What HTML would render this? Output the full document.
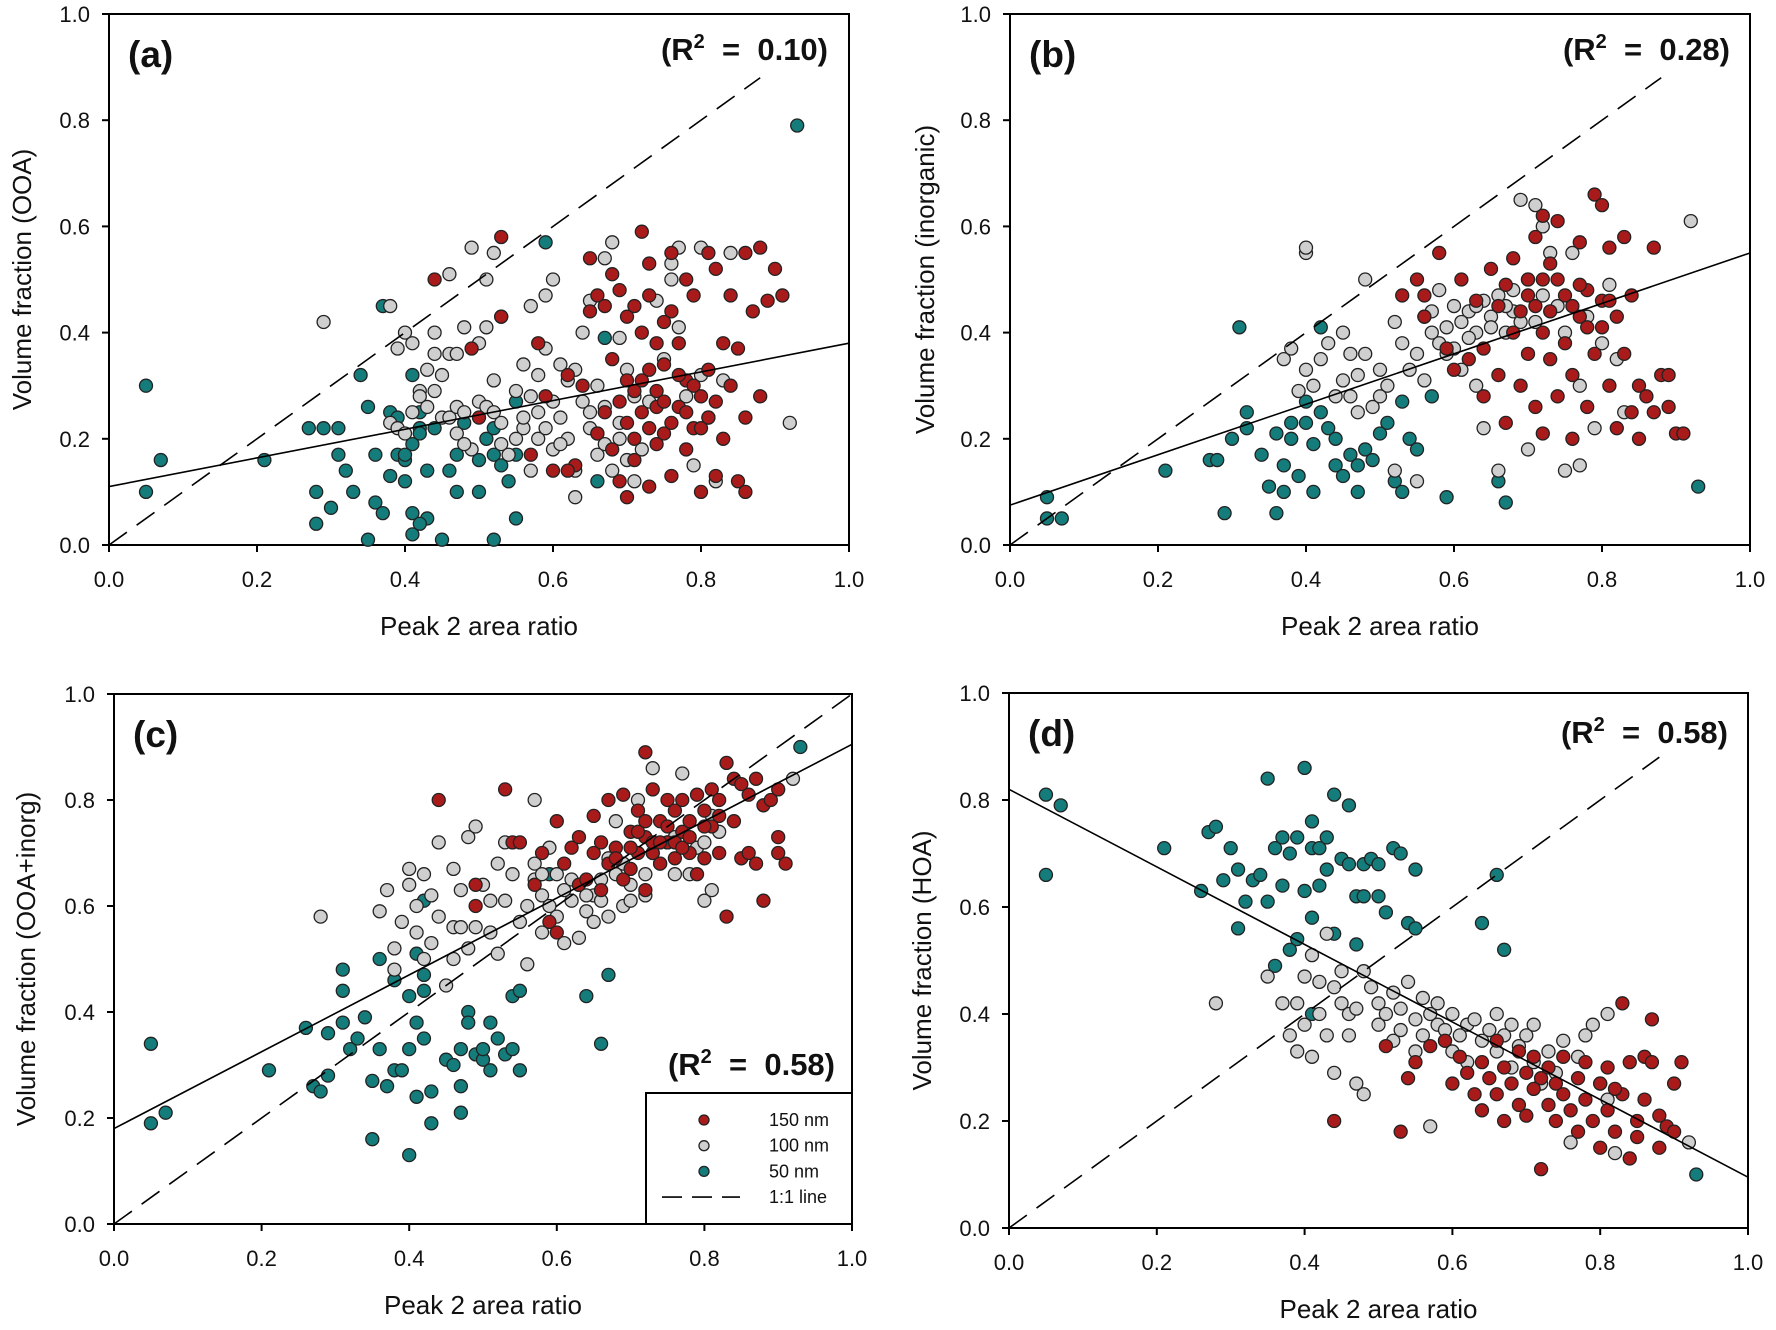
<!DOCTYPE html>
<html><head><meta charset="utf-8">
<style>
html,body{margin:0;padding:0;background:#fff;}
svg{display:block;font-family:"Liberation Sans",Arial,sans-serif;}
</style></head>
<body>
<svg id="fig" width="1776" height="1330" viewBox="0 0 1776 1330"></svg>
<script>
// ---------- data ----------
const xTicks = [0.0,0.2,0.4,0.6,0.8,1.0];
const yTicks = [0.0,0.2,0.4,0.6,0.8,1.0];
const tickLabels = ["0.0","0.2","0.4","0.6","0.8","1.0"];

const aTeal = [[0.05,0.30],[0.05,0.10],[0.07,0.16],[0.21,0.16],[0.27,0.22],[0.28,0.10],[0.29,0.22],[0.31,0.22],[0.31,0.17],[0.32,0.14],[0.33,0.10],[0.34,0.32],[0.35,0.26],[0.36,0.17],[0.36,0.08],[0.37,0.45],[0.38,0.25],[0.38,0.13],[0.39,0.24],[0.39,0.17],[0.40,0.12],[0.40,0.16],[0.41,0.06],[0.41,0.32],[0.42,0.22],[0.42,0.25],[0.43,0.14],[0.43,0.05],[0.44,0.22],[0.45,0.01],[0.35,0.01],[0.41,0.02],[0.46,0.14],[0.47,0.10],[0.47,0.17],[0.48,0.23],[0.50,0.10],[0.50,0.16],[0.51,0.20],[0.52,0.01],[0.52,0.17],[0.53,0.15],[0.55,0.17],[0.55,0.05],[0.55,0.27],[0.59,0.57],[0.67,0.39],[0.66,0.12],[0.93,0.79],[0.28,0.04],[0.30,0.07],[0.37,0.06],[0.42,0.04],[0.54,0.12],[0.52,0.22],[0.41,0.19],[0.42,0.21],[0.40,0.17]];
const aGrey = [[0.29,0.42],[0.38,0.45],[0.39,0.37],[0.40,0.40],[0.41,0.38],[0.42,0.29],[0.43,0.33],[0.44,0.40],[0.45,0.32],[0.46,0.51],[0.46,0.36],[0.47,0.36],[0.48,0.41],[0.49,0.56],[0.50,0.38],[0.51,0.41],[0.51,0.50],[0.52,0.55],[0.52,0.31],[0.53,0.43],[0.38,0.23],[0.39,0.22],[0.40,0.21],[0.41,0.25],[0.42,0.28],[0.44,0.29],[0.45,0.24],[0.46,0.24],[0.47,0.26],[0.48,0.25],[0.49,0.18],[0.50,0.27],[0.51,0.26],[0.52,0.25],[0.53,0.19],[0.54,0.17],[0.55,0.29],[0.56,0.34],[0.56,0.22],[0.57,0.45],[0.57,0.14],[0.58,0.32],[0.58,0.20],[0.59,0.47],[0.59,0.37],[0.60,0.50],[0.60,0.27],[0.60,0.18],[0.61,0.24],[0.62,0.20],[0.63,0.33],[0.63,0.09],[0.64,0.40],[0.65,0.46],[0.65,0.22],[0.66,0.30],[0.66,0.17],[0.67,0.54],[0.67,0.26],[0.68,0.57],[0.68,0.14],[0.69,0.39],[0.69,0.20],[0.70,0.33],[0.71,0.12],[0.71,0.28],[0.72,0.18],[0.73,0.27],[0.74,0.46],[0.75,0.35],[0.76,0.50],[0.76,0.53],[0.77,0.56],[0.77,0.41],[0.78,0.28],[0.79,0.15],[0.80,0.56],[0.80,0.32],[0.81,0.24],[0.82,0.12],[0.83,0.31],[0.84,0.55],[0.92,0.23],[0.63,0.14],[0.61,0.34],[0.56,0.24],[0.57,0.28],[0.58,0.25],[0.59,0.22],[0.61,0.19],[0.62,0.31],[0.64,0.27],[0.65,0.25],[0.66,0.21],[0.67,0.19],[0.69,0.23],[0.70,0.16],[0.43,0.26],[0.44,0.36],[0.47,0.21],[0.48,0.19],[0.53,0.23],[0.55,0.20]];
const aRed = [[0.44,0.50],[0.53,0.58],[0.53,0.43],[0.49,0.37],[0.50,0.24],[0.57,0.17],[0.58,0.38],[0.59,0.28],[0.60,0.14],[0.62,0.32],[0.63,0.15],[0.64,0.30],[0.65,0.54],[0.65,0.44],[0.66,0.47],[0.66,0.21],[0.67,0.45],[0.67,0.25],[0.68,0.51],[0.68,0.35],[0.69,0.48],[0.69,0.12],[0.70,0.43],[0.70,0.09],[0.70,0.23],[0.71,0.45],[0.71,0.29],[0.71,0.16],[0.72,0.59],[0.72,0.40],[0.73,0.53],[0.73,0.22],[0.73,0.11],[0.74,0.38],[0.74,0.19],[0.75,0.34],[0.75,0.21],[0.76,0.55],[0.76,0.44],[0.76,0.13],[0.77,0.38],[0.77,0.26],[0.78,0.50],[0.78,0.31],[0.78,0.18],[0.79,0.47],[0.79,0.22],[0.80,0.10],[0.80,0.28],[0.81,0.55],[0.81,0.24],[0.82,0.52],[0.82,0.13],[0.83,0.38],[0.83,0.20],[0.84,0.47],[0.84,0.30],[0.85,0.37],[0.85,0.12],[0.86,0.55],[0.86,0.24],[0.86,0.10],[0.87,0.44],[0.88,0.56],[0.88,0.28],[0.89,0.46],[0.90,0.52],[0.91,0.47],[0.74,0.26],[0.72,0.31],[0.68,0.18],[0.62,0.14],[0.69,0.27],[0.70,0.31],[0.71,0.20],[0.72,0.25],[0.73,0.33],[0.74,0.29],[0.75,0.27],[0.76,0.23],[0.77,0.32],[0.78,0.25],[0.79,0.30],[0.80,0.22],[0.81,0.33],[0.82,0.27],[0.75,0.42],[0.73,0.47]];

const bTeal = [[0.05,0.09],[0.05,0.05],[0.07,0.05],[0.21,0.14],[0.27,0.16],[0.28,0.16],[0.29,0.06],[0.30,0.20],[0.31,0.41],[0.32,0.22],[0.32,0.25],[0.34,0.17],[0.35,0.11],[0.36,0.21],[0.36,0.06],[0.37,0.15],[0.38,0.23],[0.38,0.20],[0.39,0.13],[0.40,0.27],[0.40,0.23],[0.41,0.19],[0.41,0.10],[0.42,0.25],[0.42,0.41],[0.43,0.22],[0.44,0.15],[0.45,0.13],[0.46,0.17],[0.47,0.15],[0.47,0.10],[0.48,0.18],[0.49,0.16],[0.50,0.21],[0.51,0.23],[0.52,0.12],[0.53,0.27],[0.53,0.10],[0.54,0.20],[0.55,0.18],[0.57,0.28],[0.59,0.09],[0.66,0.12],[0.67,0.08],[0.93,0.11],[0.44,0.20],[0.37,0.10]];
const bGrey = [[0.40,0.55],[0.40,0.56],[0.45,0.40],[0.46,0.36],[0.48,0.50],[0.37,0.35],[0.38,0.37],[0.39,0.29],[0.40,0.33],[0.41,0.30],[0.42,0.35],[0.43,0.38],[0.44,0.28],[0.45,0.31],[0.46,0.28],[0.47,0.32],[0.48,0.36],[0.49,0.26],[0.50,0.33],[0.51,0.30],[0.52,0.42],[0.53,0.38],[0.54,0.33],[0.55,0.36],[0.56,0.43],[0.56,0.31],[0.57,0.44],[0.58,0.38],[0.58,0.48],[0.59,0.41],[0.60,0.37],[0.60,0.45],[0.61,0.33],[0.62,0.44],[0.63,0.40],[0.64,0.46],[0.64,0.22],[0.65,0.43],[0.66,0.47],[0.66,0.14],[0.67,0.40],[0.68,0.48],[0.68,0.44],[0.69,0.65],[0.70,0.50],[0.70,0.18],[0.71,0.64],[0.71,0.42],[0.72,0.60],[0.72,0.47],[0.73,0.55],[0.74,0.45],[0.75,0.40],[0.75,0.14],[0.76,0.55],[0.77,0.30],[0.77,0.15],[0.78,0.43],[0.79,0.22],[0.80,0.38],[0.81,0.49],[0.82,0.35],[0.83,0.25],[0.92,0.61],[0.55,0.12],[0.52,0.14],[0.63,0.30],[0.57,0.40],[0.59,0.36],[0.61,0.42],[0.62,0.39],[0.63,0.45],[0.65,0.41],[0.67,0.45],[0.69,0.42],[0.50,0.28],[0.47,0.25]];
const bRed = [[0.53,0.47],[0.55,0.50],[0.56,0.47],[0.56,0.43],[0.58,0.55],[0.59,0.37],[0.60,0.33],[0.61,0.50],[0.62,0.35],[0.63,0.46],[0.64,0.37],[0.64,0.28],[0.65,0.52],[0.66,0.45],[0.66,0.32],[0.67,0.49],[0.67,0.23],[0.68,0.54],[0.68,0.40],[0.69,0.30],[0.70,0.50],[0.70,0.36],[0.71,0.58],[0.71,0.45],[0.71,0.26],[0.72,0.62],[0.72,0.40],[0.72,0.21],[0.73,0.53],[0.73,0.35],[0.74,0.61],[0.74,0.28],[0.75,0.47],[0.75,0.38],[0.76,0.32],[0.76,0.20],[0.77,0.57],[0.77,0.43],[0.78,0.48],[0.78,0.26],[0.79,0.66],[0.79,0.36],[0.80,0.64],[0.80,0.46],[0.81,0.56],[0.81,0.30],[0.82,0.43],[0.82,0.22],[0.83,0.58],[0.83,0.36],[0.84,0.47],[0.85,0.30],[0.85,0.20],[0.86,0.28],[0.87,0.56],[0.87,0.25],[0.88,0.32],[0.89,0.26],[0.90,0.21],[0.91,0.21],[0.89,0.32],[0.84,0.25],[0.69,0.44],[0.70,0.47],[0.73,0.44],[0.74,0.50],[0.76,0.45],[0.77,0.49],[0.78,0.41],[0.80,0.41],[0.81,0.46],[0.72,0.50]];

const cTeal = [[0.05,0.34],[0.05,0.19],[0.07,0.21],[0.21,0.29],[0.26,0.37],[0.27,0.26],[0.28,0.25],[0.29,0.28],[0.29,0.36],[0.31,0.48],[0.31,0.44],[0.31,0.38],[0.32,0.33],[0.33,0.35],[0.34,0.39],[0.35,0.27],[0.35,0.16],[0.36,0.33],[0.36,0.50],[0.37,0.26],[0.38,0.46],[0.38,0.29],[0.39,0.29],[0.40,0.43],[0.40,0.33],[0.40,0.13],[0.41,0.24],[0.41,0.38],[0.41,0.51],[0.42,0.61],[0.42,0.44],[0.42,0.35],[0.43,0.25],[0.43,0.19],[0.45,0.31],[0.46,0.30],[0.47,0.26],[0.47,0.21],[0.47,0.33],[0.48,0.40],[0.48,0.38],[0.49,0.32],[0.50,0.31],[0.50,0.33],[0.51,0.38],[0.51,0.29],[0.52,0.35],[0.53,0.32],[0.54,0.43],[0.54,0.33],[0.55,0.44],[0.55,0.29],[0.59,0.66],[0.64,0.43],[0.66,0.34],[0.67,0.47],[0.93,0.90],[0.42,0.47]];
const cGrey = [[0.28,0.58],[0.36,0.59],[0.37,0.63],[0.38,0.52],[0.38,0.48],[0.39,0.57],[0.40,0.67],[0.40,0.64],[0.41,0.60],[0.41,0.55],[0.42,0.66],[0.42,0.50],[0.43,0.62],[0.43,0.53],[0.44,0.58],[0.44,0.72],[0.45,0.45],[0.46,0.67],[0.46,0.56],[0.46,0.50],[0.47,0.63],[0.47,0.56],[0.48,0.52],[0.48,0.73],[0.49,0.56],[0.49,0.75],[0.50,0.64],[0.51,0.55],[0.51,0.61],[0.52,0.51],[0.52,0.68],[0.53,0.61],[0.53,0.72],[0.54,0.66],[0.55,0.57],[0.56,0.60],[0.56,0.49],[0.57,0.65],[0.57,0.80],[0.58,0.55],[0.58,0.62],[0.59,0.60],[0.59,0.71],[0.60,0.58],[0.60,0.66],[0.61,0.53],[0.62,0.61],[0.63,0.54],[0.63,0.64],[0.64,0.59],[0.65,0.62],[0.65,0.57],[0.66,0.61],[0.67,0.69],[0.67,0.58],[0.68,0.66],[0.68,0.76],[0.69,0.60],[0.70,0.64],[0.71,0.80],[0.72,0.62],[0.72,0.66],[0.73,0.86],[0.74,0.68],[0.75,0.72],[0.76,0.66],[0.77,0.85],[0.78,0.66],[0.79,0.71],[0.80,0.72],[0.80,0.61],[0.81,0.63],[0.81,0.77],[0.82,0.74],[0.92,0.84],[0.57,0.68],[0.58,0.66],[0.61,0.63],[0.62,0.65],[0.64,0.62],[0.66,0.65],[0.69,0.68],[0.70,0.61],[0.73,0.70],[0.76,0.73]];
const cRed = [[0.44,0.80],[0.49,0.64],[0.49,0.60],[0.53,0.82],[0.54,0.72],[0.55,0.72],[0.57,0.64],[0.58,0.70],[0.59,0.57],[0.60,0.55],[0.60,0.76],[0.61,0.68],[0.62,0.71],[0.63,0.73],[0.63,0.64],[0.64,0.65],[0.65,0.77],[0.65,0.70],[0.66,0.72],[0.66,0.63],[0.67,0.80],[0.67,0.68],[0.68,0.71],[0.69,0.81],[0.69,0.65],[0.70,0.74],[0.70,0.67],[0.71,0.78],[0.71,0.70],[0.72,0.89],[0.72,0.73],[0.72,0.63],[0.73,0.82],[0.73,0.70],[0.74,0.76],[0.74,0.68],[0.75,0.80],[0.75,0.72],[0.76,0.78],[0.76,0.69],[0.77,0.74],[0.77,0.80],[0.78,0.70],[0.78,0.76],[0.79,0.66],[0.79,0.81],[0.80,0.69],[0.80,0.78],[0.81,0.82],[0.81,0.75],[0.82,0.70],[0.82,0.80],[0.83,0.87],[0.83,0.58],[0.84,0.84],[0.84,0.76],[0.85,0.69],[0.85,0.83],[0.86,0.70],[0.86,0.81],[0.87,0.68],[0.87,0.84],[0.88,0.61],[0.88,0.79],[0.89,0.80],[0.90,0.73],[0.90,0.70],[0.91,0.68],[0.90,0.82],[0.71,0.74],[0.72,0.76],[0.73,0.72],[0.74,0.72],[0.75,0.75],[0.76,0.72],[0.77,0.71],[0.78,0.73],[0.80,0.75],[0.82,0.77],[0.68,0.69],[0.70,0.71]];

const dTeal = [[0.05,0.81],[0.05,0.66],[0.07,0.79],[0.21,0.71],[0.26,0.63],[0.27,0.74],[0.28,0.75],[0.29,0.65],[0.30,0.71],[0.31,0.56],[0.31,0.67],[0.32,0.61],[0.33,0.65],[0.34,0.66],[0.35,0.61],[0.35,0.84],[0.36,0.49],[0.36,0.71],[0.37,0.73],[0.37,0.64],[0.38,0.52],[0.38,0.70],[0.39,0.54],[0.39,0.73],[0.40,0.86],[0.40,0.63],[0.41,0.76],[0.41,0.58],[0.41,0.71],[0.42,0.64],[0.42,0.71],[0.43,0.67],[0.43,0.73],[0.44,0.81],[0.44,0.55],[0.45,0.69],[0.46,0.79],[0.46,0.68],[0.47,0.62],[0.48,0.62],[0.48,0.68],[0.49,0.69],[0.50,0.68],[0.50,0.62],[0.51,0.59],[0.52,0.71],[0.53,0.70],[0.54,0.57],[0.55,0.56],[0.55,0.67],[0.41,0.40],[0.59,0.35],[0.64,0.57],[0.66,0.66],[0.67,0.52],[0.93,0.10],[0.47,0.53]];
const dGrey = [[0.28,0.42],[0.35,0.47],[0.37,0.42],[0.38,0.36],[0.39,0.42],[0.39,0.33],[0.40,0.47],[0.40,0.38],[0.41,0.51],[0.41,0.32],[0.42,0.46],[0.42,0.40],[0.43,0.55],[0.43,0.36],[0.44,0.45],[0.44,0.29],[0.45,0.42],[0.45,0.48],[0.46,0.40],[0.46,0.36],[0.47,0.41],[0.47,0.27],[0.48,0.48],[0.48,0.25],[0.49,0.45],[0.50,0.42],[0.50,0.38],[0.51,0.40],[0.52,0.44],[0.52,0.35],[0.53,0.41],[0.53,0.37],[0.54,0.46],[0.55,0.39],[0.55,0.33],[0.56,0.43],[0.56,0.36],[0.57,0.40],[0.57,0.19],[0.58,0.38],[0.58,0.42],[0.59,0.37],[0.60,0.40],[0.60,0.33],[0.61,0.36],[0.62,0.38],[0.62,0.31],[0.63,0.39],[0.64,0.35],[0.65,0.37],[0.66,0.33],[0.66,0.40],[0.67,0.36],[0.68,0.30],[0.68,0.38],[0.69,0.34],[0.70,0.36],[0.71,0.31],[0.71,0.38],[0.72,0.27],[0.73,0.33],[0.74,0.29],[0.75,0.35],[0.76,0.16],[0.77,0.32],[0.78,0.36],[0.79,0.38],[0.80,0.27],[0.81,0.24],[0.82,0.14],[0.92,0.16],[0.81,0.40]];
const dRed = [[0.44,0.20],[0.51,0.34],[0.53,0.18],[0.54,0.28],[0.55,0.31],[0.57,0.34],[0.59,0.35],[0.60,0.27],[0.61,0.32],[0.62,0.29],[0.63,0.25],[0.64,0.31],[0.64,0.22],[0.65,0.28],[0.66,0.35],[0.66,0.25],[0.67,0.30],[0.67,0.20],[0.68,0.27],[0.69,0.33],[0.69,0.23],[0.70,0.29],[0.70,0.21],[0.71,0.26],[0.71,0.32],[0.72,0.11],[0.72,0.28],[0.73,0.23],[0.73,0.30],[0.74,0.27],[0.74,0.20],[0.75,0.25],[0.75,0.32],[0.76,0.22],[0.77,0.28],[0.77,0.18],[0.78,0.24],[0.78,0.31],[0.79,0.20],[0.80,0.27],[0.80,0.15],[0.81,0.22],[0.81,0.30],[0.82,0.18],[0.83,0.42],[0.83,0.25],[0.84,0.13],[0.84,0.31],[0.85,0.20],[0.85,0.17],[0.86,0.24],[0.86,0.32],[0.87,0.39],[0.87,0.31],[0.88,0.21],[0.88,0.15],[0.89,0.19],[0.90,0.27],[0.91,0.31],[0.90,0.18],[0.82,0.26]];

// regression fits [intercept, slope] and 1:1 end
const fitA = [0.11, 0.27], fitB = [0.075, 0.475], fitC = [0.18, 0.725], fitD = [0.82, -0.725];
const oneEnd = [0.88, 0.88, 1.0, 0.88];
const r2Values = ["0.10","0.28","0.58","0.58"];

// ---------- drawing ----------
const NS = "http://www.w3.org/2000/svg";
const svg = document.getElementById("fig");
function mk(tag, attrs, parent){ const e=document.createElementNS(NS,tag); for(const k in attrs) e.setAttribute(k,attrs[k]); (parent||svg).appendChild(e); return e; }
const COLORS = {red:"#a91b1b", grey:"#cfcfcf", teal:"#147c7a"};

const panels = [
 {id:"a", x0:109,x1:849,yT:14,yB:545, yTitle:"Volume fraction (OOA)", ytx:22, teal:aTeal, grey:aGrey, red:aRed, fit:fitA, one:oneEnd[0], r2x:828, r2y:60},
 {id:"b", x0:1010,x1:1750,yT:14,yB:545, yTitle:"Volume fraction (inorganic)", ytx:925, teal:bTeal, grey:bGrey, red:bRed, fit:fitB, one:oneEnd[1], r2x:1730, r2y:60},
 {id:"c", x0:114,x1:852,yT:694,yB:1224, yTitle:"Volume fraction (OOA+inorg)", ytx:26, teal:cTeal, grey:cGrey, red:cRed, fit:fitC, one:oneEnd[2], r2x:835, r2y:1075},
 {id:"d", x0:1009,x1:1748,yT:693,yB:1228, yTitle:"Volume fraction (HOA)", ytx:922, teal:dTeal, grey:dGrey, red:dRed, fit:fitD, one:oneEnd[3], r2x:1728, r2y:743}
];

panels.forEach((p,i)=>{
  const g = mk("g",{});
  
  
  const sx = v => p.x0 + v*(p.x1-p.x0);
  const sy = v => p.yB - v*(p.yB-p.yT);
  const fr = mk("rect",{x:p.x0,y:p.yT,width:p.x1-p.x0,height:p.yB-p.yT,fill:"none",stroke:"#000","stroke-width":2},g);
  
  
  xTicks.forEach((t,k)=>{
    const l = mk("line",{x1:sx(t),x2:sx(t),y1:p.yB,y2:p.yB+7,stroke:"#000","stroke-width":2},g);
    
    
    const tx = mk("text",{x:sx(t),y:p.yB+42,"text-anchor":"middle","font-size":22,fill:"#111"},g);
    tx.textContent = tickLabels[k];
    
    
  });
  yTicks.forEach((t,k)=>{
    const l = mk("line",{x1:p.x0-7,x2:p.x0,y1:sy(t),y2:sy(t),stroke:"#000","stroke-width":2},g);
    
    
    const tx = mk("text",{x:p.x0-19,y:sy(t)+8,"text-anchor":"end","font-size":22,fill:"#111"},g);
    tx.textContent = tickLabels[k];
    
    
  });
  const xt = mk("text",{x:(p.x0+p.x1)/2,y:p.yB+90,"text-anchor":"middle","font-size":26,fill:"#111"},g);
  xt.textContent = "Peak 2 area ratio";
  
  
  const cy = (p.yT+p.yB)/2;
  const yt = mk("text",{x:p.ytx,y:cy,"text-anchor":"middle","font-size":26,fill:"#111",transform:`rotate(-90 ${p.ytx} ${cy})`,"dominant-baseline":"central"},g);
  yt.textContent = p.yTitle;
  
  
  [["teal",p.teal],["grey",p.grey],["red",p.red]].forEach(([c,arr])=>{
    arr.forEach(pt=>{
      const m = mk("circle",{cx:sx(pt[0]),cy:sy(pt[1]),r:6.5,fill:COLORS[c],stroke:"#222","stroke-width":1.3},g);
      
      
    });
  });
  const dl = mk("line",{x1:sx(0),y1:sy(0),x2:sx(p.one),y2:sy(p.one),stroke:"#000","stroke-width":1.6,"stroke-dasharray":"22,12"},g);
  
  
  const rl = mk("line",{x1:sx(0),y1:sy(p.fit[0]),x2:sx(1),y2:sy(p.fit[0]+p.fit[1]),stroke:"#000","stroke-width":1.6},g);
  
  
  const pl = mk("text",{x:p.x0+19,y:p.yT+53,"font-size":37,"font-weight":"bold",fill:"#111"},g);
  pl.textContent = "("+p.id+")";
  
  
  const r2 = mk("text",{x:p.r2x,y:p.r2y,"text-anchor":"end","font-size":31,"font-weight":"bold",fill:"#111"},g);
  
  
  const t1 = mk("tspan",{},r2); t1.textContent = "(R";
  const t2 = mk("tspan",{dy:-12,"font-size":20},r2); t2.textContent = "2";
  const t3 = mk("tspan",{dy:12},r2); t3.textContent = "  =  " + r2Values[i] + ")";
  r2.setAttribute("xml:space","preserve");
  r2.style.whiteSpace = "pre";
});

const lg = mk("g",{});


const lb = mk("rect",{x:646,y:1093,width:206,height:131,fill:"#fff",stroke:"#000","stroke-width":2},lg);


const legendNames = ["150 nm","100 nm","50 nm","1:1 line"];
const legendColors = ["red","grey","teal",null];
legendNames.forEach((n,k)=>{
  const yy = 1120 + k*25.7;
  if(legendColors[k]){
    const c = mk("circle",{cx:704,cy:yy,r:5,fill:COLORS[legendColors[k]],stroke:"#222","stroke-width":1.3},lg);
    
    
  } else {
    const l = mk("line",{x1:662,x2:740,y1:yy,y2:yy,stroke:"#000","stroke-width":1.6,"stroke-dasharray":"20,10"},lg);
    
    
  }
  const t = mk("text",{x:769,y:yy+6,"font-size":18,fill:"#111"},lg);
  t.textContent = n;
  
  
});
</script>
</body></html>
